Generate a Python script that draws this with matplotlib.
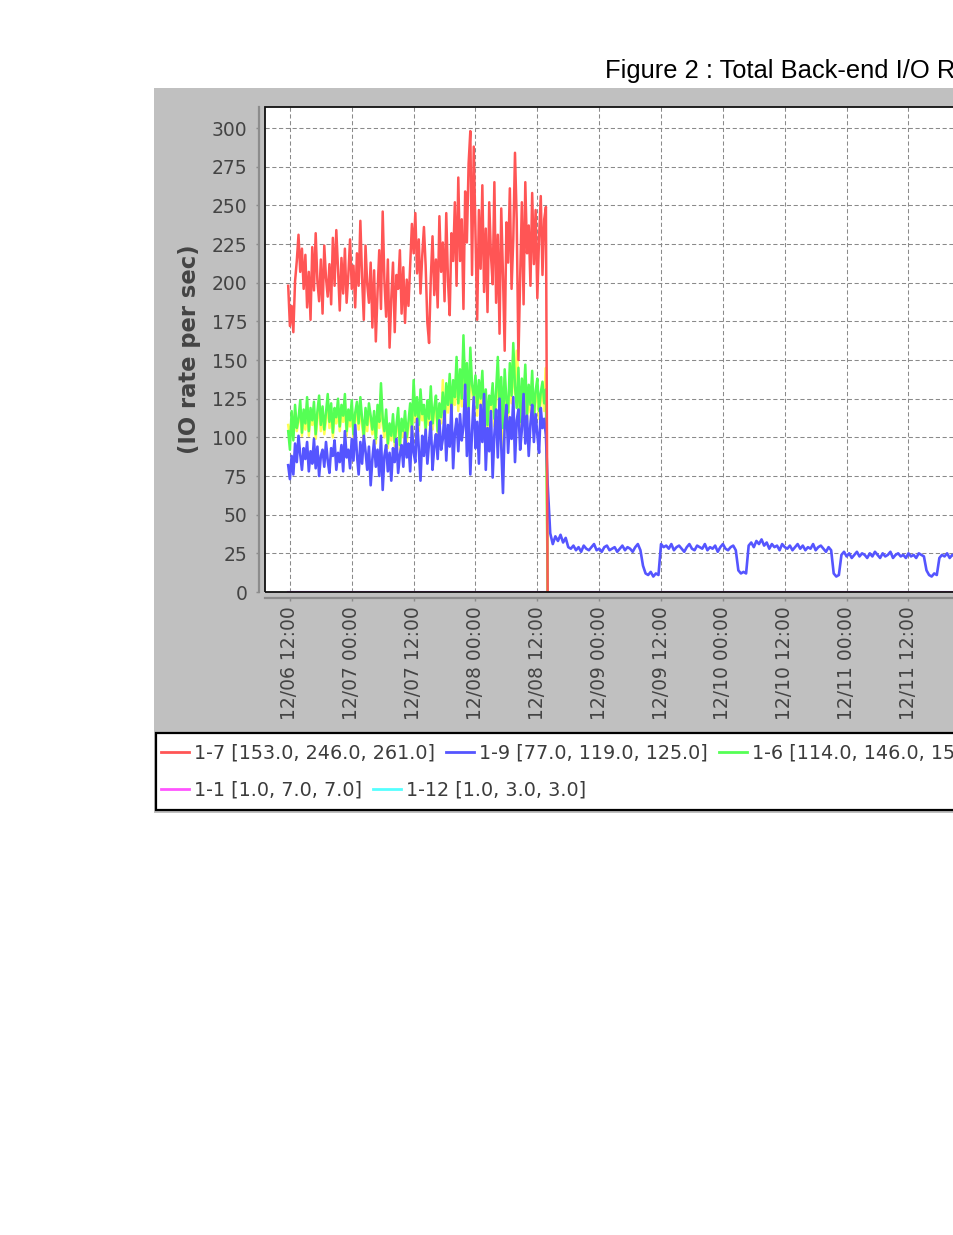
import pandas as pd
import matplotlib
matplotlib.use('Agg')
import matplotlib.pyplot as plt
import matplotlib.dates as mdates
from matplotlib.patches import Rectangle
from matplotlib.lines import Line2D

W, H = 954, 1235

# busy period, one sample every 20 minutes, ends with the drop
busy_start = '2012-12-06 11:40'
red_vals = [198, 172, 185, 168, 201, 214, 231, 207, 222, 196,
            218, 184, 207, 176, 223, 195, 232, 201, 188, 215,
            180, 224, 203, 191, 212, 186, 229, 198, 234, 209,
            182, 216, 193, 222, 187, 205, 228, 196, 211, 184,
            219, 198, 240, 203, 176, 224, 199, 187, 213, 171,
            208, 162, 194, 221, 183, 246, 201, 178, 215, 158,
            190, 213, 168, 205, 196, 221, 180, 210, 174, 202,
            185, 211, 238, 219, 245, 206, 228, 193, 217, 236,
            211, 174, 161, 203, 230, 192, 215, 184, 243, 207,
            226, 188, 245, 201, 179, 232, 214, 252, 198, 268,
            214, 241, 183, 259, 226, 277, 298, 205, 288, 231,
            176, 247, 209, 263, 194, 235, 181, 252, 218, 199,
            265, 187, 231, 167, 248, 205, 156, 239, 213, 261,
            196, 228, 284, 241, 150, 203, 252, 186, 265, 219,
            237, 198, 258, 212, 247, 190, 229, 256, 205, 241, 249, 0]
blue_vals = [82, 73, 88, 76, 96, 84, 101, 89, 79, 93,
             86, 97, 78, 91, 83, 99, 80, 94, 75, 88,
             92, 81, 97, 85, 77, 93, 88, 98, 79, 90,
             84, 95, 78, 104, 87, 92, 80, 99, 85, 108,
             89, 76, 97, 83, 101, 91, 79, 94, 69, 86,
             98, 81, 92, 75, 101, 66, 88, 95, 78, 90,
             72, 93, 84, 99, 77, 89, 95, 81, 103, 87,
             96, 78, 107, 90, 84, 112, 93, 72, 101, 88,
             105, 83, 97, 110, 79, 94, 102, 86, 111, 92,
             99, 117, 85, 108, 94, 121, 80, 103, 112, 91,
             115, 98, 107, 134, 88, 119, 76, 104, 126, 93,
             110, 83, 121, 97, 128, 79, 106, 91, 117, 74,
             102, 118, 87, 125, 95, 64, 108, 121, 90, 113,
             99, 126, 84, 111, 118, 92, 105, 128, 96, 114,
             88, 109, 121, 97, 115, 102, 90, 119, 106, 112, 101, 70]
green_vals = [104, 92, 117, 98, 121, 106, 112, 124, 103, 118,
              109, 126, 104, 119, 111, 123, 102, 117, 127, 108,
              120, 105, 116, 128, 110, 122, 103, 119, 113, 125,
              107, 121, 114, 128, 104, 118, 111, 124, 102, 116,
              123, 109, 126, 112, 101, 119, 108, 122, 114, 105,
              117, 99, 121, 110, 135, 112, 104, 118, 96, 109,
              101, 115, 97, 108, 119, 95, 112, 104, 117, 100,
              110, 122, 105, 137, 114, 126, 108, 131, 115, 121,
              106, 124, 112, 133, 109, 119, 127, 104, 122, 113,
              129, 110, 135, 121, 141, 116, 137, 126, 152, 122,
              144, 125, 166, 131, 148, 118, 158, 134, 127, 140,
              119, 137, 125, 143, 113, 131, 108, 127, 121, 135,
              112, 130, 152, 118, 139, 106, 144, 124, 116, 148,
              127, 161, 133, 119, 145, 110, 138, 125, 147, 115,
              134, 121, 143, 112, 130, 138, 117, 129, 136, 122, 131, 0]
yellow_vals = [108, 100, 112, 103, 116, 104, 110, 118, 101, 113,
               105, 120, 101, 114, 108, 117, 99, 112, 121, 104,
               115, 102, 111, 122, 106, 117, 100, 114, 109, 119,
               104, 116, 110, 122, 101, 113, 107, 119, 99, 111,
               118, 105, 120, 108, 98, 114, 104, 117, 110, 102,
               112, 96, 116, 106, 128, 108, 100, 113, 93, 105,
               98, 110, 94, 104, 114, 92, 108, 100, 112, 97,
               106, 117, 101, 130, 110, 120, 104, 125, 111, 116,
               102, 119, 108, 127, 105, 114, 121, 100, 117, 109,
               137, 106, 129, 116, 135, 112, 131, 121, 145, 117,
               138, 120, 158, 126, 141, 114, 150, 129, 122, 134,
               114, 131, 120, 137, 108, 125, 104, 121, 116, 129,
               107, 124, 145, 113, 133, 74, 138, 119, 111, 142,
               122, 154, 128, 156, 139, 105, 132, 120, 141, 110,
               128, 116, 137, 107, 124, 132, 112, 123, 130, 117, 145, 0]

# after the drop only 1-9 keeps running, one sample every 30 minutes
tail_start = '2012-12-08 14:30'
blue_tail = [38, 31, 36, 33, 37, 32, 35, 29,
             28, 30, 27, 29, 26, 30, 28, 27, 29, 31, 27, 28, 26, 29, 30, 27,
             28, 29, 26, 28, 30, 27, 29, 28, 26, 29, 31, 27,
             17, 12, 11, 13, 10, 12, 11,
             31, 29, 30, 28, 31, 27, 29, 30, 28, 26, 29, 31, 28, 27, 30,
             29, 28, 31, 27, 29, 28, 30, 26, 29, 31, 28, 27, 29, 30, 27,
             14, 12, 13, 12,
             30, 32, 29, 33, 31, 34, 30, 32, 28, 31, 29, 30, 27, 31, 29, 28,
             30, 27, 29, 31, 28, 30, 27, 29, 28, 31, 27, 29, 30, 28, 26, 29, 27,
             12, 10, 11,
             24, 26, 23, 25, 22, 24, 26, 23, 25, 24, 22, 25, 23, 26, 24, 22,
             25, 23, 24, 26, 22, 24, 25, 23, 24, 22, 25, 23, 24, 22, 25, 24, 23,
             14, 11, 10, 12, 11,
             22, 24, 23, 25, 22, 24, 23, 25, 24]
magenta_vals = [0, 0]
cyan_vals = [0, 0]

labels = ['1-7 [153.0, 246.0, 261.0]', '1-9 [77.0, 119.0, 125.0]',
          '1-6 [114.0, 146.0, 157.0]', '1-8 [112.0, 150.0, 158.0]',
          '1-1 [1.0, 7.0, 7.0]', '1-12 [1.0, 3.0, 3.0]']
colors = ['#ff5555', '#5555ff', '#55ff55', '#ffff55', '#ff55ff', '#55ffff']

y_ticks = list(range(0, 301, 25))
# the original chart runs on past the right edge of the page
x_min = '2012-12-06 07:10'
x_max = '2012-12-11 22:00'
axes_right_px = 960


def fx(px):
    return px / W


def fy(py):
    return 1 - py / H


t_busy = pd.date_range(busy_start, periods=len(red_vals), freq='20min')
t_tail = pd.date_range(tail_start, periods=len(blue_tail), freq='30min')
t_blue = t_busy.append(t_tail)
t_ends = [t_busy[0], t_tail[-1]]

fig = plt.figure(figsize=(W / 100, H / 100), dpi=100)
fig.patch.set_facecolor('white')

# grey chart panel
fig.patches.append(Rectangle((fx(154), fy(813)), fx(1400 - 154), (813 - 88) / H,
                             transform=fig.transFigure, facecolor='#c0c0c0',
                             edgecolor='none', zorder=-5))

fig.text(fx(605), fy(78), 'Figure 2 : Total Back-end I/O Rate', family='Liberation Sans',
         fontsize=18.4, ha='left', va='baseline', color='black')

ax = fig.add_axes([fx(265), fy(592), fx(axes_right_px - 265), (592 - 107) / H])
ax.set_facecolor('white')

# JFreeChart draws the first series on top
ax.plot(t_ends, cyan_vals, color=colors[5], lw=1.5, zorder=2)
ax.plot(t_ends, magenta_vals, color=colors[4], lw=1.5, zorder=2.1)
ax.plot(t_busy, yellow_vals, color=colors[3], lw=1.8, zorder=2.2)
ax.plot(t_busy, green_vals, color=colors[2], lw=1.8, zorder=2.3)
ax.plot(t_blue, blue_vals + blue_tail, color=colors[1], lw=1.9, zorder=2.4)
ax.plot(t_busy, red_vals, color=colors[0], lw=1.8, zorder=2.5)

ax.set_xlim(pd.Timestamp(x_min), pd.Timestamp(x_max))
ax.set_ylim(0, 313.6)
ax.set_yticks(y_ticks)
ax.xaxis.set_major_locator(mdates.HourLocator(byhour=[0, 12]))
ax.xaxis.set_major_formatter(mdates.DateFormatter('%m/%d %H:%M'))

ax.set_axisbelow(True)
ax.grid(True, color='#8a8a8a', lw=0.75, linestyle=(0, (4, 2.5)))

for side in ['left', 'bottom']:
    ax.spines[side].set_position(('outward', 4.3))
    ax.spines[side].set_color('#8c8c8c')
    ax.spines[side].set_linewidth(1.6)
for side in ['top', 'right']:
    ax.spines[side].set_visible(False)
ax.add_patch(Rectangle((0, 0), 1, 1, transform=ax.transAxes, fill=False,
                       edgecolor='#111111', lw=1.3, zorder=10, clip_on=False))

ax.tick_params(axis='y', length=2.5, width=1, color='#8c8c8c', pad=5.8,
               labelsize=13.5, labelcolor='#444444')
ax.tick_params(axis='x', length=2.5, width=1, color='#8c8c8c', pad=3.6,
               labelsize=13.5, labelcolor='#444444', labelrotation=90)

fig.text(fx(190), fy(349), '(IO rate per sec)', rotation=90, fontsize=16.3,
         fontweight='bold', color='#444444', ha='center', va='center')

# legend box, flowing in two rows like the original
fig.patches.append(Rectangle((fx(156), fy(810)), fx(1400 - 156), (810 - 733) / H,
                             transform=fig.transFigure, facecolor='white',
                             edgecolor='black', lw=1.6, zorder=1))

leg_fs = 13.8
rows = [([0, 1, 2, 3], 753), ([4, 5], 790)]
for idx, ypos in rows:
    handles = [Line2D([], [], color=colors[i], lw=2) for i in idx]
    leg = fig.legend(handles, [labels[i] for i in idx], loc='center left',
                     bbox_to_anchor=(fx(161), fy(ypos)), ncol=len(idx), frameon=False,
                     fontsize=leg_fs, handlelength=20.2 / leg_fs,
                     handletextpad=3.6 / leg_fs, columnspacing=7.9 / leg_fs,
                     borderpad=0, borderaxespad=0, labelcolor='#3c3c3c')
    leg.set_zorder(5)

fig.savefig('out.png', dpi=100)
